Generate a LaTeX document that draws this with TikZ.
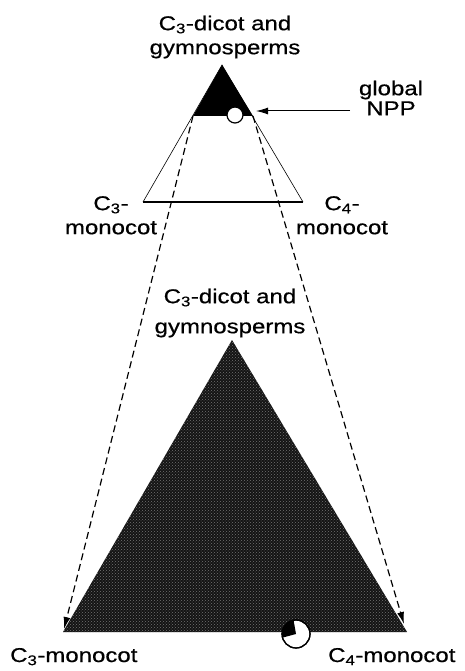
\documentclass[tikz,border=0pt]{standalone}
\usepackage{fontspec}
\setmainfont{Liberation Sans}[FakeStretch=1.2,FakeBold=0.6]
\usetikzlibrary{arrows.meta,patterns}

\begin{document}
\begin{tikzpicture}[x=1pt,y=-1pt,
  label/.style={align=center,font=\fontsize{20}{24}\selectfont,inner sep=0pt},
  arrow/.style={-{Latex[length=12pt,width=7pt]},line width=1pt},
  guide/.style={arrow,line width=1.2pt,dash pattern=on 7pt off 4pt},
  dot/.style={circle,draw,fill=white,line width=1.2pt,inner sep=0pt}
]
\useasboundingbox (0,0) rectangle (465,671);
% small triangle, global NPP at its top
\coordinate (topapex) at (222,65);
\coordinate (topleft) at (143,202);
\coordinate (topright) at (303,202);
\coordinate (blackleft) at (193,116);
\coordinate (blackright) at (253,116);
\fill (topapex) -- (blackleft) -- (blackright) -- cycle;
\draw[line width=0.6pt] (topleft) -- (topapex) -- (topright);
\draw[line width=1.4pt] (topleft) -- (topright);
\node[dot,minimum size=16pt] (npp) at (235,115) {};
% large triangle
\coordinate (bigapex) at (232,340);
\coordinate (bigleft) at (63,632);
\coordinate (bigright) at (407,632);
\fill[black!92] (bigapex) -- (bigleft) -- (bigright) -- cycle;
\path[pattern=crosshatch dots,pattern color=black!55] (bigapex) -- (bigleft) -- (bigright) -- cycle;
\node[dot,minimum size=28pt] (local) at (296,634) {};
\fill (local.center) -- ([shift={(100:14pt)}]local.center) arc[start angle=100,end angle=195,radius=14pt] -- cycle;
\draw[line width=1.2pt] (local.center) circle[radius=14pt];
% labels
\node[label,anchor=north] (topname) at (225,15.5) {C\textsubscript{3}-dicot and\\gymnosperms};
\node[label,anchor=north] (bigname) at (230,288.5) {C\textsubscript{3}-dicot and\\[6pt]gymnosperms};
\node[label,anchor=north] (c3mid) at (111,196) {C\textsubscript{3}-\\monocot};
\node[label,anchor=north] (c4mid) at (342,196) {C\textsubscript{4}-\\monocot};
\node[label,anchor=north,font=\fontsize{20}{20}\selectfont] (global) at (391,80.5) {global\\NPP};
\node[label,anchor=base west] (c3low) at (10,662) {C\textsubscript{3}-monocot};
\node[label,anchor=base west] (c4low) at (328,662) {C\textsubscript{4}-monocot};
% arrows
\coordinate (npptail) at (350,111);
\coordinate (npptip) at (256,111);
\coordinate (leftend) at (64,629);
\coordinate (rightend) at (404,624);
\draw[arrow] (npptail) -- (npptip);
\draw[guide] (blackleft) -- (leftend);
\draw[guide] (blackright) -- (rightend);
\end{tikzpicture}
\end{document}
